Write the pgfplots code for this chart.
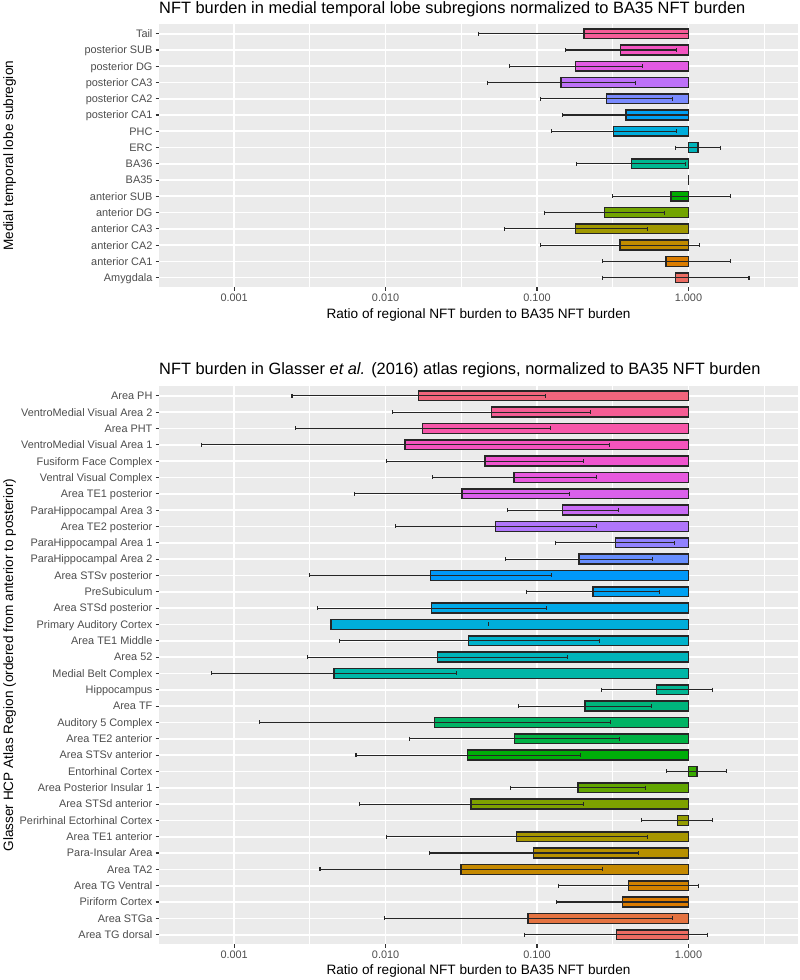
\documentclass[border=0pt]{standalone}
\usepackage{fontspec}
\setmainfont{Liberation Sans}
\usepackage{pgfplots}
\pgfplotsset{compat=1.18}

\definecolor{panelbg}{HTML}{EBEBEB}
\definecolor{gray30}{HTML}{4D4D4D}
\definecolor{gray20}{HTML}{333333}

% ggplot-style hue palette (HCL, C=100, L slightly darker than default)
\def\hclY{0.29249}   % ((L+16)/116)^3 for L=61
\def\hclL{793}       % 13*L
\newcommand\gammafix[1]{%
  \pgfmathsetmacro#1{max(0.0001,min(1,#1))}%
  \pgfmathsetmacro#1{#1<0.0031308 ? 12.92*#1 : 1.055*#1^(1/2.4)-0.055}%
  \pgfmathsetmacro#1{max(0,min(1,#1))}}
\newcommand\hclcolor[2]{%
  \pgfmathsetmacro\hU{100*cos(#2)/\hclL+0.197839}%
  \pgfmathsetmacro\hV{100*sin(#2)/\hclL+0.468336}%
  \pgfmathsetmacro\hX{\hclY*9*\hU/(4*\hV)}%
  \pgfmathsetmacro\hZ{\hclY*(12-3*\hU-20*\hV)/(4*\hV)}%
  \pgfmathsetmacro\hR{3.2404542*\hX-1.5371385*\hclY-0.4985314*\hZ}%
  \pgfmathsetmacro\hG{-0.9692660*\hX+1.8760108*\hclY+0.0415560*\hZ}%
  \pgfmathsetmacro\hB{0.0556434*\hX-0.2040259*\hclY+1.0572252*\hZ}%
  \gammafix\hR\gammafix\hG\gammafix\hB
  \edef\tmp{\noexpand\definecolor{#1}{rgb}{\hR,\hG,\hB}}\tmp}
\pgfplotsforeachungrouped \i in {1,...,16}{%
  \pgfmathsetmacro\hh{15+(\i-1)*22.5}\hclcolor{top\i}{\hh}}
\pgfplotsforeachungrouped \i in {1,...,34}{%
  \pgfmathsetmacro\hh{15+(\i-1)*10.588235}\hclcolor{bot\i}{\hh}}

\newcommand\titlefont{\fontsize{16.4}{19}\selectfont}
\newcommand\labfont{\fontsize{13.6}{16}\selectfont}

\pgfplotsset{
  nftaxis/.style={
    scale only axis, width=639pt,
    xmin=0.000319, xmax=5.286, ymin=0.4,
    xtick={0.001,0.01,0.1,1},
    xticklabels={0.001,0.010,0.100,1.000},
    minor xtick={0.003162,0.031623,0.316228,3.162278},
    axis background/.style={fill=panelbg},
    axis line style={draw=none},
    grid=both,
    major grid style={white, line width=1.7pt},
    minor grid style={white, line width=0.85pt},
    tick align=outside, tick pos=left,
    major tick length=3.4pt, minor tick length=0pt,
    tick style={gray20, line width=1.1pt},
    ticklabel style={font=\fontsize{10.9}{12}\selectfont, text=gray30},
    yticklabel style={anchor=east, inner sep=0pt, text height=7.8pt, text depth=0pt, xshift=-3pt},
    xticklabel style={anchor=north, inner sep=0pt, text height=7.8pt, text depth=0pt, yshift=-2.6pt},
  },
  nftbar/.style={xbar, bar width=0.6, bar shift=0pt, draw=black!85, line width=1.5pt, fill=#1},
  errb/.style={black!85, line width=1.1pt, mark=|, mark size=2pt, mark options={solid}, unbounded coords=jump},
}

\begin{document}
\begin{tikzpicture}
\path[use as bounding box] (0,0) rectangle (800pt,980pt);

% ---------- top panel ----------
\begin{semilogxaxis}[nftaxis, anchor=south west, at={(159pt,692.6pt)}, height=263.4pt, ymax=16.6,
  ytick={1,...,16},
  yticklabels={Amygdala,anterior CA1,anterior CA2,anterior CA3,anterior DG,anterior SUB,BA35,BA36,ERC,PHC,posterior CA1,posterior CA2,posterior CA3,posterior DG,posterior SUB,Tail}]
\addplot[nftbar=top1] coordinates {(0.820,1)};
\addplot[nftbar=top2] coordinates {(0.712,2)};
\addplot[nftbar=top3] coordinates {(0.352,3)};
\addplot[nftbar=top4] coordinates {(0.180,4)};
\addplot[nftbar=top5] coordinates {(0.279,5)};
\addplot[nftbar=top6] coordinates {(0.765,6)};
\addplot[nftbar=top7] coordinates {(1.000,7)};
\addplot[nftbar=top8] coordinates {(0.420,8)};
\addplot[nftbar=top9] coordinates {(1.153,9)};
\addplot[nftbar=top10] coordinates {(0.320,10)};
\addplot[nftbar=top11] coordinates {(0.386,11)};
\addplot[nftbar=top12] coordinates {(0.288,12)};
\addplot[nftbar=top13] coordinates {(0.144,13)};
\addplot[nftbar=top14] coordinates {(0.180,14)};
\addplot[nftbar=top15] coordinates {(0.357,15)};
\addplot[nftbar=top16] coordinates {(0.204,16)};
\addplot[errb] coordinates {
  (0.270,1) (2.51,1) (1,nan)
  (0.270,2) (1.885,2) (1,nan)
  (0.105,3) (1.18,3) (1,nan)
  (0.061,4) (0.534,4) (1,nan)
  (0.112,5) (0.698,5) (1,nan)
  (0.315,6) (1.885,6) (1,nan)
  (0.183,8) (0.960,8) (1,nan)
  (0.817,9) (1.63,9) (1,nan)
  (0.125,10) (0.829,10) (1,nan)
  (0.148,11) (1.0,11) (1,nan)
  (0.105,12) (0.789,12) (1,nan)
  (0.047,13) (0.445,13) (1,nan)
  (0.0654,14) (0.497,14) (1,nan)
  (0.155,15) (0.833,15) (1,nan)
  (0.041,16) (1.0,16)
};
\end{semilogxaxis}
\node[anchor=base west, inner sep=0pt, font=\titlefont] at (159pt,966.7pt)
  {NFT burden in medial temporal lobe subregions normalized to BA35 NFT burden};
\node[anchor=base, inner sep=0pt, font=\labfont] at (478.5pt,661.8pt)
  {Ratio of regional NFT burden to BA35 NFT burden};
\node[rotate=90, anchor=base, inner sep=0pt, font=\labfont] at (13pt,824.3pt)
  {Medial temporal lobe subregion};

% ---------- bottom panel ----------
\begin{semilogxaxis}[nftaxis, anchor=south west, at={(159pt,35.5pt)}, height=558.5pt, ymax=34.6,
  ytick={1,...,34},
  yticklabels={Area TG dorsal,Area STGa,Piriform Cortex,Area TG Ventral,Area TA2,Para-Insular Area,Area TE1 anterior,Perirhinal Ectorhinal Cortex,Area STSd anterior,Area Posterior Insular 1,Entorhinal Cortex,Area STSv anterior,Area TE2 anterior,Auditory 5 Complex,Area TF,Hippocampus,Medial Belt Complex,Area 52,Area TE1 Middle,Primary Auditory Cortex,Area STSd posterior,PreSubiculum,Area STSv posterior,ParaHippocampal Area 2,ParaHippocampal Area 1,Area TE2 posterior,ParaHippocampal Area 3,Area TE1 posterior,Ventral Visual Complex,Fusiform Face Complex,VentroMedial Visual Area 1,Area PHT,VentroMedial Visual Area 2,Area PH}]
\addplot[nftbar=bot1] coordinates {(0.334,1)};
\addplot[nftbar=bot2] coordinates {(0.0873,2)};
\addplot[nftbar=bot3] coordinates {(0.3665,3)};
\addplot[nftbar=bot4] coordinates {(0.402,4)};
\addplot[nftbar=bot5] coordinates {(0.0314,5)};
\addplot[nftbar=bot6] coordinates {(0.0947,6)};
\addplot[nftbar=bot7] coordinates {(0.0731,7)};
\addplot[nftbar=bot8] coordinates {(0.846,8)};
\addplot[nftbar=bot9] coordinates {(0.0367,9)};
\addplot[nftbar=bot10] coordinates {(0.186,10)};
\addplot[nftbar=bot11] coordinates {(1.136,11)};
\addplot[nftbar=bot12] coordinates {(0.0347,12)};
\addplot[nftbar=bot13] coordinates {(0.0709,13)};
\addplot[nftbar=bot14] coordinates {(0.0210,14)};
\addplot[nftbar=bot15] coordinates {(0.208,15)};
\addplot[nftbar=bot16] coordinates {(0.615,16)};
\addplot[nftbar=bot17] coordinates {(0.00457,17)};
\addplot[nftbar=bot18] coordinates {(0.0220,18)};
\addplot[nftbar=bot19] coordinates {(0.0354,19)};
\addplot[nftbar=bot20] coordinates {(0.00435,20)};
\addplot[nftbar=bot21] coordinates {(0.0201,21)};
\addplot[nftbar=bot22] coordinates {(0.234,22)};
\addplot[nftbar=bot23] coordinates {(0.0198,23)};
\addplot[nftbar=bot24] coordinates {(0.189,24)};
\addplot[nftbar=bot25] coordinates {(0.330,25)};
\addplot[nftbar=bot26] coordinates {(0.0531,26)};
\addplot[nftbar=bot27] coordinates {(0.147,27)};
\addplot[nftbar=bot28] coordinates {(0.0319,28)};
\addplot[nftbar=bot29] coordinates {(0.0706,29)};
\addplot[nftbar=bot30] coordinates {(0.0454,30)};
\addplot[nftbar=bot31] coordinates {(0.01345,31)};
\addplot[nftbar=bot32] coordinates {(0.0175,32)};
\addplot[nftbar=bot33] coordinates {(0.0500,33)};
\addplot[nftbar=bot34] coordinates {(0.0165,34)};
\addplot[errb] coordinates {
  (0.083,1) (1.336,1) (1,nan)
  (0.00977,2) (0.789,2) (1,nan)
  (0.135,3) (1.0,3) (1,nan)
  (0.138,4) (1.164,4) (1,nan)
  (0.00369,5) (0.269,5) (1,nan)
  (0.0194,6) (0.466,6) (1,nan)
  (0.01007,7) (0.534,7) (1,nan)
  (0.489,8) (1.449,8) (1,nan)
  (0.00668,9) (0.2017,9) (1,nan)
  (0.0671,10) (0.518,10) (1,nan)
  (0.716,11) (1.782,11) (1,nan)
  (0.00638,12) (0.1926,12) (1,nan)
  (0.01445,13) (0.352,13) (1,nan)
  (0.00147,14) (0.304,14) (1,nan)
  (0.0758,15) (0.567,15) (1,nan)
  (0.266,16) (1.434,16) (1,nan)
  (0.000711,17) (0.0295,17) (1,nan)
  (0.00306,18) (0.158,18) (1,nan)
  (0.00493,19) (0.257,19) (1,nan)
  (0.0481,20) (1,nan)
  (0.00353,21) (0.1154,21) (1,nan)
  (0.0857,22) (0.644,22) (1,nan)
  (0.00314,23) (0.1253,23) (1,nan)
  (0.0622,24) (0.575,24) (1,nan)
  (0.1323,25) (0.813,25) (1,nan)
  (0.01155,26) (0.2457,26) (1,nan)
  (0.0641,27) (0.343,27) (1,nan)
  (0.00622,28) (0.163,28) (1,nan)
  (0.0203,29) (0.2457,29) (1,nan)
  (0.0102,30) (0.2024,30) (1,nan)
  (0.000607,31) (0.299,31) (1,nan)
  (0.00254,32) (0.1227,32) (1,nan)
  (0.01116,33) (0.2265,33) (1,nan)
  (0.00241,34) (0.1137,34)
};
\end{semilogxaxis}
\node[anchor=base west, inner sep=0pt, font=\titlefont] at (159pt,605pt)
  {NFT burden in Glasser \textit{et al.} (2016) atlas regions, normalized to BA35 NFT burden};
\node[anchor=base, inner sep=0pt, font=\labfont] at (478.5pt,5.1pt)
  {Ratio of regional NFT burden to BA35 NFT burden};
\node[rotate=90, anchor=base, inner sep=0pt, font=\labfont] at (13pt,314.8pt)
  {Glasser HCP Atlas Region (ordered from anterior to posterior)};
\end{tikzpicture}
\end{document}
